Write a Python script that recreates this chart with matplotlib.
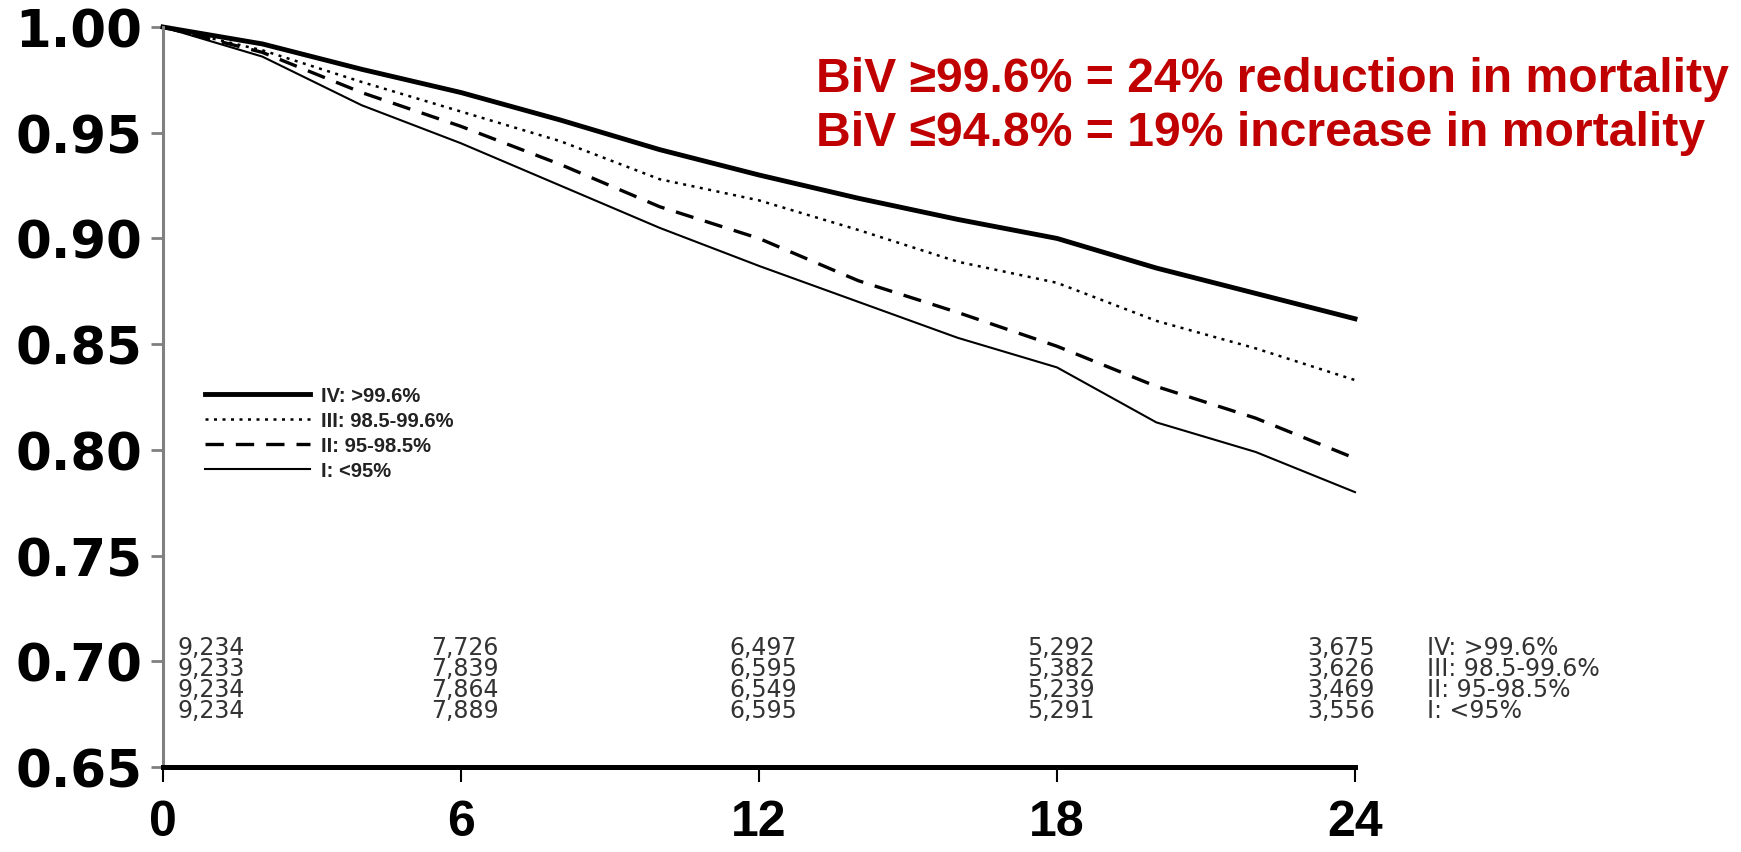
import matplotlib.pyplot as plt

# months since implant and survival
months = [0, 2, 4, 6, 8, 10, 12, 14, 16, 18, 20, 22, 24]
surv_IV = [1.000, 0.992, 0.980, 0.969, 0.956, 0.942, 0.930, 0.919, 0.909, 0.900, 0.886, 0.874, 0.862]
surv_III = [1.000, 0.989, 0.974, 0.960, 0.946, 0.928, 0.918, 0.904, 0.889, 0.879, 0.861, 0.848, 0.833]
surv_II = [1.000, 0.988, 0.969, 0.953, 0.935, 0.915, 0.900, 0.880, 0.865, 0.849, 0.830, 0.815, 0.796]
surv_I = [1.000, 0.986, 0.963, 0.945, 0.925, 0.905, 0.887, 0.870, 0.853, 0.839, 0.813, 0.799, 0.780]

group_labels = ['IV: >99.6%', 'III: 98.5-99.6%', 'II: 95-98.5%', 'I: <95%']

# numbers at risk
risk_months = [0, 6, 12, 18, 24]
risk_IV = [9234, 7726, 6497, 5292, 3675]
risk_III = [9233, 7839, 6595, 5382, 3626]
risk_II = [9234, 7864, 6549, 5239, 3469]
risk_I = [9234, 7889, 6595, 5291, 3556]

note_lines = ['BiV \u226599.6% = 24% reduction in mortality',
              'BiV \u226494.8% = 19% increase in mortality']

if __name__ == '__main__':
    W, H = 1741, 853
    fig = plt.figure(figsize=(W / 100, H / 100), dpi=100)
    ax = fig.add_axes([163 / W, 85 / H, (1355 - 163) / W, (768 - 28) / H])

    styles = [
        dict(lw=3.5, ls='-'),
        dict(lw=1.8, ls=(0, (1.2, 2.2))),
        dict(lw=2.4, ls=(0, (5.5, 3.6))),
        dict(lw=1.5, ls='-'),
    ]
    for surv, lab, st in zip([surv_IV, surv_III, surv_II, surv_I], group_labels, styles):
        ax.plot(months, surv, color='black', label=lab, clip_on=False, **st)

    ax.set_xlim(0, 24)
    ax.set_ylim(0.65, 1.00)
    ax.set_xticks(risk_months)
    yt = [0.65, 0.70, 0.75, 0.80, 0.85, 0.90, 0.95, 1.00]
    ax.set_yticks(yt)
    ax.set_yticklabels(['%.2f' % v for v in yt])

    for s in ['top', 'right']:
        ax.spines[s].set_visible(False)
    ax.spines['left'].set_color('#808080')
    ax.spines['left'].set_linewidth(2.2)
    ax.spines['bottom'].set_color('black')
    ax.spines['bottom'].set_linewidth(3.6)

    ax.tick_params(axis='y', length=9, width=2, color='#808080', pad=6)
    ax.tick_params(axis='x', length=11, width=1.5, color='black', pad=12)
    for t in ax.get_yticklabels():
        t.set_fontfamily('DejaVu Sans')
        t.set_fontweight('bold')
        t.set_fontsize(37)
    for t in ax.get_xticklabels():
        t.set_fontfamily('Liberation Sans')
        t.set_fontweight('bold')
        t.set_fontsize(36)

    # at-risk table
    rows = [risk_IV, risk_III, risk_II, risk_I]
    row_y = [0.7067, 0.6968, 0.6869, 0.6770]
    for vals, y, lab in zip(rows, row_y, group_labels):
        for m, v in zip(risk_months, vals):
            if m == 0:
                x, ha = m + 0.3, 'left'
            elif m == 24:
                x, ha = m + 0.4, 'right'
            else:
                x, ha = m + 0.08, 'center'
            ax.text(x, y, f'{v:,}', ha=ha, va='center', fontsize=17,
                    family='DejaVu Sans', color='#333333', clip_on=False)
        ax.text(25.45, y, lab, ha='left', va='center', fontsize=17,
                family='DejaVu Sans', color='#333333', clip_on=False)

    leg = ax.legend(loc='upper left', bbox_to_anchor=(205 / W, 1 - 387 / H),
                    bbox_transform=fig.transFigure, frameon=False,
                    borderpad=0, borderaxespad=0, handlelength=5.2,
                    handletextpad=0.55, labelspacing=0.3,
                    prop={'family': 'Liberation Sans', 'weight': 'bold', 'size': 14.5})
    for t in leg.get_texts():
        t.set_color('#222222')

    for txt, yc in zip(note_lines, [80, 133]):
        fig.text(816 / W, 1 - yc / H, txt, ha='left', va='center',
                 fontsize=34.7, fontweight='bold', color='#C00000',
                 family=['Liberation Sans', 'DejaVu Sans'])

    fig.savefig('out.png', dpi=100)
